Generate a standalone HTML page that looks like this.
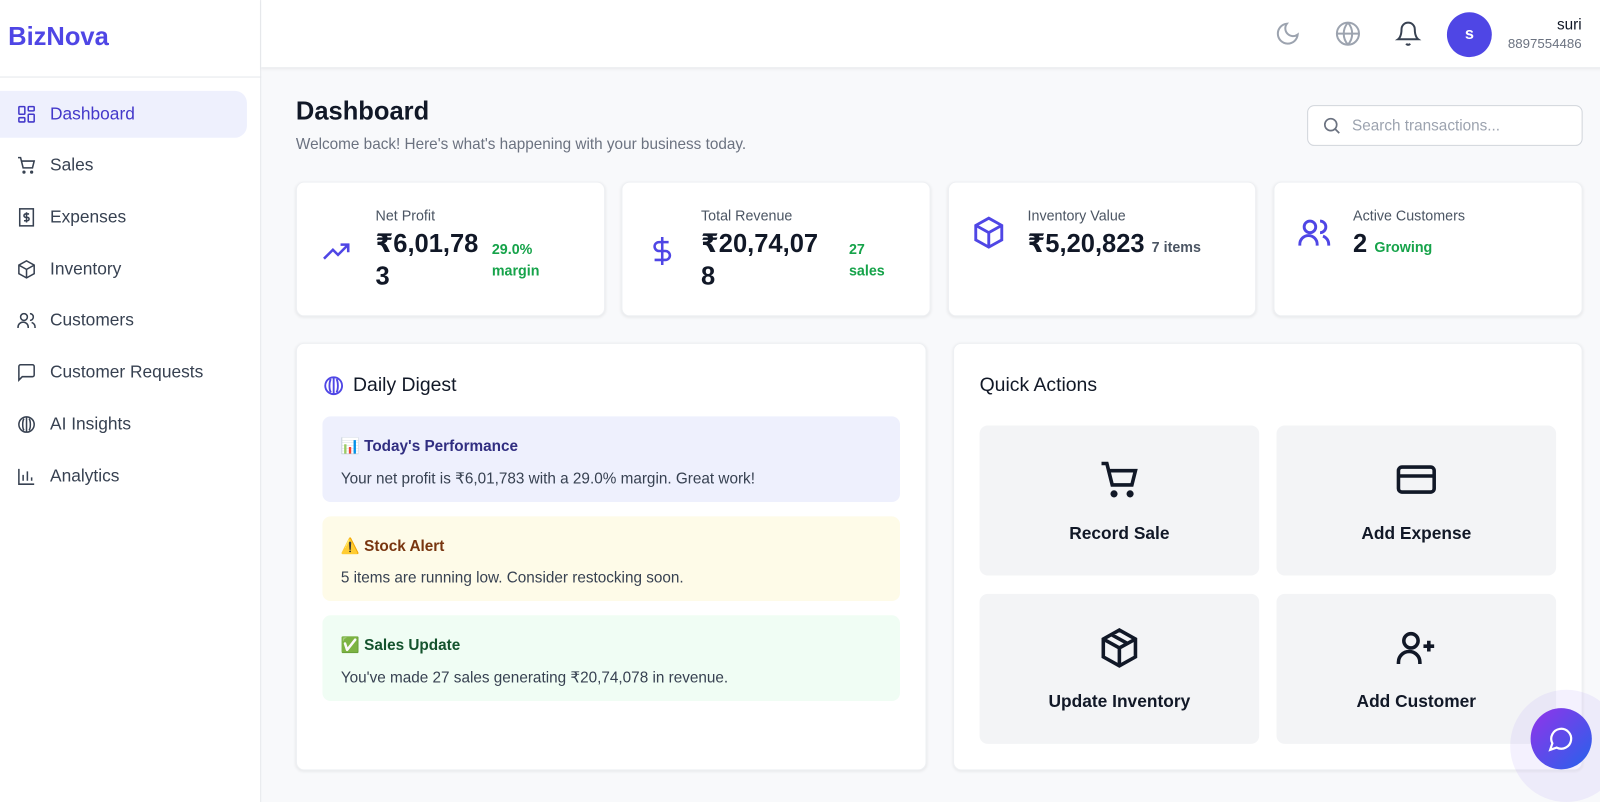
<!DOCTYPE html>
<html><head><meta charset="utf-8"><style>
*{box-sizing:border-box;margin:0;padding:0}
body{width:1600px;height:786px;overflow:hidden;background:#f8f9fb;font-family:"Liberation Sans","DejaVu Sans",sans-serif;color:#111827;position:relative}
#wrap{position:absolute;left:0;top:0;width:1568px;height:771px;transform:scale(1.0204);transform-origin:0 0}
.abs{position:absolute}
.side{left:0;top:0;width:256px;height:786px;background:#fff;border-right:1px solid #e5e7eb}
.logo{left:8px;top:22px;font-size:25px;font-weight:bold;color:#4f46e5}
.nav{left:0;width:242px;height:46px;border-radius:0 12px 12px 0;display:flex;align-items:center;padding-left:16px;font-size:17px;color:#374151}
.nav svg{width:20px;height:20px;margin-right:13px;stroke:#374151;fill:none;stroke-width:1.8}
.nav.active{background:#eef0fd;color:#4338ca}
.nav.active svg{stroke:#4338ca}
.top{left:256px;top:0;width:1344px;height:67px;background:#fff;border-bottom:1px solid #e5e7eb;box-shadow:0 1px 3px rgba(0,0,0,.05)}
.card{background:#fff;border-radius:8px;box-shadow:0 1px 3px rgba(0,0,0,.08);border:1px solid #eef0f3}
.stat .lbl{font-size:14px;color:#4b5563}
.big{font-size:25px;font-weight:600;line-height:32px;color:#111827}
.green{color:#16a34a;font-weight:bold;font-size:14px}
.digest{left:316px;width:566px;border-radius:8px;padding:20px 18px}
.digest h4{font-size:15px;font-weight:bold;margin-bottom:14px}
.digest p{font-size:15px;color:#374151}
.qa{background:#f3f4f6;border-radius:8px;width:274px;height:147px;display:flex;flex-direction:column;align-items:center;justify-content:center;font-weight:bold;font-size:17px}
.qa svg{width:42px;height:42px;fill:none;stroke:#111827;stroke-width:2;margin-bottom:22px}
</style></head><body>
<div id="wrap">
<div class="abs side">
<div class="abs logo">BizNova</div>
<div class="abs" style="left:0;top:75px;width:256px;border-top:1px solid #e5e7eb"></div>
<div class="abs nav active" style="top:89px"><svg viewBox="0 0 24 24"><rect x="3" y="3" width="7" height="9" rx="1"/><rect x="14" y="3" width="7" height="5" rx="1"/><rect x="14" y="12" width="7" height="9" rx="1"/><rect x="3" y="16" width="7" height="5" rx="1"/></svg>Dashboard</div>
<div class="abs nav" style="top:139px"><svg viewBox="0 0 24 24"><path d="M2 3h3l3 12h11l2-8H6"/><circle cx="9" cy="20" r="1"/><circle cx="18" cy="20" r="1"/></svg>Sales</div>
<div class="abs nav" style="top:190px"><svg viewBox="0 0 24 24"><rect x="4" y="2" width="16" height="20"/><path d="M15 8h-4a2 2 0 000 4h2a2 2 0 010 4H9M12 6v12"/></svg>Expenses</div>
<div class="abs nav" style="top:241px"><svg viewBox="0 0 24 24"><path d="M12 2l9 5v10l-9 5-9-5V7z M3 7l9 5 9-5 M12 12v10"/></svg>Inventory</div>
<div class="abs nav" style="top:291px"><svg viewBox="0 0 24 24"><circle cx="9" cy="8" r="4"/><path d="M2 21v-1a6 6 0 0112 0v1M16 4a4 4 0 010 8M22 21v-1a6 6 0 00-4-5.6"/></svg>Customers</div>
<div class="abs nav" style="top:342px"><svg viewBox="0 0 24 24"><path d="M21 15a2 2 0 01-2 2H7l-4 4V5a2 2 0 012-2h14a2 2 0 012 2z"/></svg>Customer Requests</div>
<div class="abs nav" style="top:393px"><svg viewBox="0 0 24 24"><circle cx="12" cy="12" r="9"/><path d="M12 3v18M9 5c-2 3-2 11 0 14M15 5c2 3 2 11 0 14"/></svg>AI Insights</div>
<div class="abs nav" style="top:444px"><svg viewBox="0 0 24 24"><path d="M3 3v18h18M8 17V10M13 17V6M18 17v-4"/></svg>Analytics</div>
</div>

<div class="abs top"></div>
<svg class="abs" style="left:1249px;top:20px" width="26" height="26" viewBox="0 0 24 24" fill="none" stroke="#9ca3af" stroke-width="1.8"><path d="M21 12.8A9 9 0 1111.2 3a7 7 0 009.8 9.8z"/></svg>
<svg class="abs" style="left:1308px;top:20px" width="26" height="26" viewBox="0 0 24 24" fill="none" stroke="#9ca3af" stroke-width="1.8"><circle cx="12" cy="12" r="10"/><path d="M2 12h20M12 2a15 15 0 010 20M12 2a15 15 0 000 20"/></svg>
<svg class="abs" style="left:1367px;top:20px" width="26" height="26" viewBox="0 0 24 24" fill="none" stroke="#374151" stroke-width="1.8"><path d="M18 8a6 6 0 00-12 0c0 7-3 9-3 9h18s-3-2-3-9M10.3 21a1.9 1.9 0 003.4 0"/></svg>
<div class="abs" style="left:1418px;top:12px;width:44px;height:44px;border-radius:50%;background:#4f46e5;color:#fff;font-weight:bold;font-size:16px;display:flex;align-items:center;justify-content:center">s</div>
<div class="abs" style="right:18px;top:16px;text-align:right"><div style="font-size:15px;color:#111827">suri</div><div style="font-size:13px;color:#6b7280;margin-top:2px">8897554486</div></div>

<div class="abs" style="left:290px;top:95px;font-size:25px;font-weight:bold">Dashboard</div>
<div class="abs" style="left:290px;top:133px;font-size:15px;color:#6b7280">Welcome back! Here's what's happening with your business today.</div>
<div class="abs" style="left:1281px;top:103px;width:270px;height:40px;background:#fff;border:1px solid #d1d5db;border-radius:7px;display:flex;align-items:center;padding-left:13px;font-size:15px;color:#9ca3af"><svg width="20" height="20" viewBox="0 0 24 24" fill="none" stroke="#6b7280" stroke-width="2" style="margin-right:10px"><circle cx="11" cy="11" r="7"/><path d="M21 21l-5-5"/></svg>Search transactions...</div>

<div class="abs card stat" style="left:290px;top:178px;width:303px;height:132px">
<svg class="abs" style="left:22px;top:52px" width="34" height="30" viewBox="0 0 24 24" fill="none" stroke="#4f46e5" stroke-width="2"><path d="M2 18l7-7 4 4 8-8M15 7h6v6"/></svg>
<div class="abs lbl" style="left:77px;top:24px">Net Profit</div>
<div class="abs big" style="left:77px;top:44px;width:110px">₹6,01,78<br>3</div>
<div class="abs green" style="left:191px;top:55px;line-height:21px">29.0%<br>margin</div></div>

<div class="abs card stat" style="left:609px;top:178px;width:303px;height:132px">
<svg class="abs" style="left:24px;top:50px" width="30" height="34" viewBox="0 0 24 24" fill="none" stroke="#4f46e5" stroke-width="2"><path d="M12 1v22M17 5H9.5a3.5 3.5 0 000 7h5a3.5 3.5 0 010 7H6"/></svg>
<div class="abs lbl" style="left:77px;top:24px">Total Revenue</div>
<div class="abs big" style="left:77px;top:44px;width:130px">₹20,74,07<br>8</div>
<div class="abs green" style="left:222px;top:55px;line-height:21px">27<br>sales</div></div>

<div class="abs card stat" style="left:929px;top:178px;width:302px;height:132px">
<svg class="abs" style="left:22px;top:32px" width="34" height="34" viewBox="0 0 24 24" fill="none" stroke="#4f46e5" stroke-width="2"><path d="M12 2l9 5v10l-9 5-9-5V7z M3 7l9 5 9-5 M12 12v10"/></svg>
<div class="abs lbl" style="left:77px;top:24px">Inventory Value</div>
<div class="abs big" style="left:77px;top:44px">₹5,20,823 <span style="font-size:14px;color:#4b5563;font-weight:600">7 items</span></div></div>

<div class="abs card stat" style="left:1248px;top:178px;width:303px;height:132px">
<svg class="abs" style="left:22px;top:32px" width="34" height="34" viewBox="0 0 24 24" fill="none" stroke="#4f46e5" stroke-width="2"><circle cx="9" cy="8" r="4"/><path d="M2 21v-1a6 6 0 0112 0v1M16 4a4 4 0 010 8M22 21v-1a6 6 0 00-4-5.6"/></svg>
<div class="abs lbl" style="left:77px;top:24px">Active Customers</div>
<div class="abs big" style="left:77px;top:44px">2 <span style="font-size:14px;color:#16a34a;font-weight:bold">Growing</span></div></div>

<div class="abs card" style="left:290px;top:336px;width:618px;height:419px"></div>
<svg class="abs" style="left:316px;top:367px" width="22" height="22" viewBox="0 0 24 24" fill="none" stroke="#4f46e5" stroke-width="2"><circle cx="12" cy="12" r="9"/><path d="M12 3v18M9 5c-2 3-2 11 0 14M15 5c2 3 2 11 0 14"/></svg>
<div class="abs" style="left:346px;top:367px;font-size:19px">Daily Digest</div>
<div class="abs digest" style="top:408px;height:84px;background:#eef0fd"><h4 style="color:#312e81">📊 Today's Performance</h4><p>Your net profit is ₹6,01,783 with a 29.0% margin. Great work!</p></div>
<div class="abs digest" style="top:506px;height:83px;background:#fefbe8"><h4 style="color:#78350f">⚠️ Stock Alert</h4><p>5 items are running low. Consider restocking soon.</p></div>
<div class="abs digest" style="top:603px;height:84px;background:#f0fdf4"><h4 style="color:#14532d">✅ Sales Update</h4><p>You've made 27 sales generating ₹20,74,078 in revenue.</p></div>

<div class="abs card" style="left:934px;top:336px;width:617px;height:419px"></div>
<div class="abs" style="left:960px;top:367px;font-size:19px">Quick Actions</div>
<div class="abs qa" style="left:960px;top:417px"><svg viewBox="0 0 24 24"><path d="M2 3h3l3 12h11l2-8H6"/><circle cx="9" cy="20" r="1"/><circle cx="18" cy="20" r="1"/></svg>Record Sale</div>
<div class="abs qa" style="left:1251px;top:417px"><svg viewBox="0 0 24 24"><rect x="2" y="5" width="20" height="14" rx="2"/><path d="M2 10h20"/></svg>Add Expense</div>
<div class="abs qa" style="left:960px;top:582px"><svg viewBox="0 0 24 24"><path d="M12 2l9 5v10l-9 5-9-5V7z M3 7l9 5 9-5 M12 12v10 M7.5 4.5l9 5"/></svg>Update Inventory</div>
<div class="abs qa" style="left:1251px;top:582px"><svg viewBox="0 0 24 24"><circle cx="9" cy="8" r="4"/><path d="M2 21v-1a6 6 0 0112 0v1M19 8v6M16 11h6"/></svg>Add Customer</div>

<div class="abs" style="left:1480px;top:676px;width:110px;height:110px;border-radius:50%;background:rgba(167,139,250,.12)"></div>
<div class="abs" style="left:1500px;top:694px;width:60px;height:60px;border-radius:50%;background:linear-gradient(135deg,#9333ea,#2563eb);display:flex;align-items:center;justify-content:center"><svg width="26" height="26" viewBox="0 0 24 24" fill="none" stroke="#fff" stroke-width="2"><path d="M7.9 20A9 9 0 104 16.1L2 22z"/></svg></div>
</div>
</body></html>
